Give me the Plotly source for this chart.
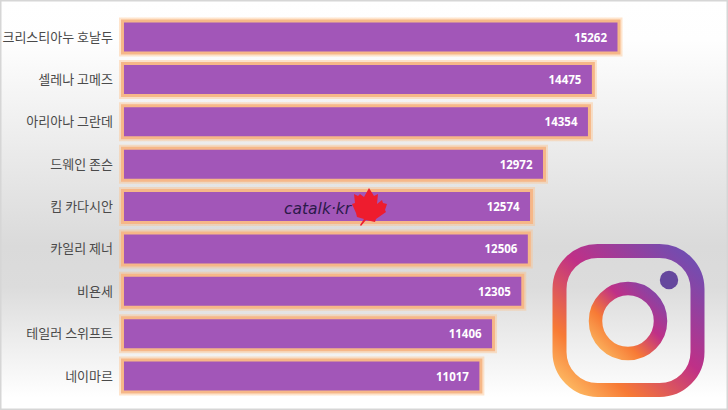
import base64
import plotly.graph_objects as go

names = ["크리스티아누 호날두", "셀레나 고메즈", "아리아나 그란데", "드웨인 존슨", "킴 카다시안",
         "카일리 제너", "비욘세", "테일러 스위프트", "네이마르"]
followers = [15262, 14475, 14354, 12972, 12574, 12506, 12305, 11406, 11017]


def svg_uri(svg):
    return "data:image/svg+xml;base64," + base64.b64encode(svg.encode()).decode()


# page background, white -> grey -> white, with the thin grey frame
bg_svg = """<svg xmlns="http://www.w3.org/2000/svg" width="728" height="410" viewBox="0 0 728 410">
<defs><linearGradient id="g" x1="0" y1="0" x2="0" y2="1">
<stop offset="0" stop-color="#ffffff"/><stop offset="0.1" stop-color="#fefefe"/>
<stop offset="0.6" stop-color="#dadada"/><stop offset="0.7" stop-color="#dcdcdc"/>
<stop offset="0.97" stop-color="#ffffff"/><stop offset="1" stop-color="#ffffff"/>
</linearGradient></defs>
<rect width="728" height="410" fill="url(#g)"/>
<rect x="0.5" y="0.5" width="727" height="409" fill="none" stroke="#d6d6d6" stroke-width="2"/>
</svg>"""

# instagram logo and the maple leaf of the watermark
top_svg = """<svg xmlns="http://www.w3.org/2000/svg" width="728" height="410" viewBox="0 0 728 410">
<defs>
<linearGradient id="a" gradientUnits="userSpaceOnUse" x1="565" y1="395" x2="695" y2="250">
<stop offset="0" stop-color="#fec56b"/><stop offset="0.22" stop-color="#f77a35"/>
<stop offset="0.55" stop-color="#bf3087"/><stop offset="1" stop-color="#6a50b5"/>
</linearGradient>
<linearGradient id="b" gradientUnits="userSpaceOnUse" x1="598" y1="352" x2="660" y2="290">
<stop offset="0" stop-color="#fbb55f"/><stop offset="0.3" stop-color="#f77a35"/>
<stop offset="0.62" stop-color="#bf3087"/><stop offset="1" stop-color="#7c48ab"/>
</linearGradient>
</defs>
<rect x="559.5" y="251" width="138" height="139" rx="38" ry="38" fill="none" stroke="url(#a)" stroke-width="14"/>
<circle cx="628" cy="321" r="32.5" fill="none" stroke="url(#b)" stroke-width="13.5"/>
<circle cx="669" cy="280" r="9.2" fill="#65479d"/>
<path fill="#ee1c2e" d="M369 188 L374 196 L378 194 L377 204 L382 200 L383 203 L387 204 L385 210 L386 212
L376 219 L375 222 L366 220 L361 226 L360 225 L364 219 L357 217 L356 213 L352 204 L355 203 L354 194 L358 196 L360 194 L364 197 Z"/>
</svg>"""

fig = go.Figure()

# soft orange glow behind the bars
fig.add_trace(go.Bar(x=followers, y=names, orientation="h", width=0.755,
                     marker=dict(color="rgba(0,0,0,0)", line=dict(color="rgba(255,190,130,0.4)", width=7)),
                     hoverinfo="skip", showlegend=False))

# nbsp padding keeps the value away from the bar end
fig.add_trace(go.Bar(x=followers, y=names, orientation="h", width=0.755,
                     text=followers, texttemplate="%{text}&nbsp;&nbsp;&nbsp;", textposition="inside",
                     insidetextanchor="end", textangle=0, cliponaxis=False,
                     textfont=dict(family="Open Sans", size=11.5, color="white", weight="bold"),
                     marker=dict(color="#a256b8", line=dict(color="#f6b788", width=3)),
                     showlegend=False))

fig.update_layout(
    width=728,
    height=410,
    barmode="overlay",
    margin=dict(l=0, r=0, t=0, b=0),
    paper_bgcolor="rgba(0,0,0,0)",
    plot_bgcolor="rgba(0,0,0,0)",
    xaxis=dict(domain=[118 / 728, 1], range=[-138, 18613], visible=False, fixedrange=True),
    yaxis=dict(anchor="x", type="category", range=[8.8, -0.873], showgrid=False, showline=False,
               ticks="", ticklen=0, ticklabelstandoff=4, fixedrange=True,
               tickfont=dict(family="Noto Sans CJK KR", size=13, color="#4a4a4a")),
    images=[
        dict(source=svg_uri(bg_svg), xref="paper", yref="paper", x=0, y=1, sizex=1, sizey=1,
             xanchor="left", yanchor="top", sizing="stretch", layer="below"),
        dict(source=svg_uri(top_svg), xref="paper", yref="paper", x=0, y=1, sizex=1, sizey=1,
             xanchor="left", yanchor="top", sizing="stretch", layer="above"),
    ],
    annotations=[
        dict(text="catalk·kr", xref="paper", yref="paper", x=318 / 728, y=1 - 209 / 410, showarrow=False,
             font=dict(family="DejaVu Sans", size=15.5, color="#2b1a4a", style="italic")),
    ],
)

fig.write_html("out.html", config={"displayModeBar": False},
               post_script="document.body.style.margin='0';")
